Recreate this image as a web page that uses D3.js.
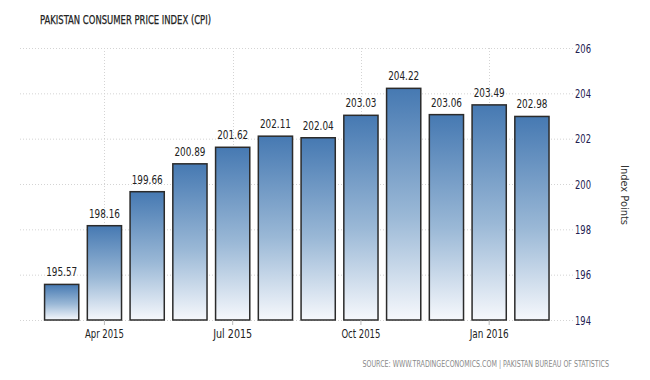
<!DOCTYPE html>
<html>
<head>
<meta charset="utf-8">
<script src="https://cdn.jsdelivr.net/npm/d3@7"></script>
<style>
  body { margin: 0; background: #fff; }
  svg text { font-family: "DejaVu Sans Condensed", "DejaVu Sans", sans-serif; }
</style>
</head>
<body>
<svg id="chart" width="650" height="380"></svg>
<script>
const months = ['2015-03', '2015-04', '2015-05', '2015-06', '2015-07', '2015-08',
    '2015-09', '2015-10', '2015-11', '2015-12', '2016-01', '2016-02'];
const cpi = [195.57, 198.16, 199.66, 200.89, 201.62, 202.11, 202.04, 203.03, 204.22, 203.06, 203.49, 202.98];
const xTicks = ['2015-04', '2015-07', '2015-10', '2016-01'];
const xTickLabels = ['Apr 2015', 'Jul 2015', 'Oct 2015', 'Jan 2016'];
const yTicks = [194, 196, 198, 200, 202, 204, 206];

const svg = d3.select('#chart');

const x = d3.scaleBand().domain(months).range([40.3, 553.3]).paddingInner(0.2).paddingOuter(0.1);
const y = d3.scaleLinear().domain([194, 206]).range([320, 48]);

// squeeze a text node to the width the reference uses
function fitWidth(sel, w) {
    sel.each(function () {
        if (this.getComputedTextLength() > w + 1) {
            d3.select(this).attr('textLength', w).attr('lengthAdjust', 'spacingAndGlyphs');
        }
    });
}

// gradient per bar
const grad = svg.append('defs').append('linearGradient')
    .attr('id', 'barGrad')
    .attr('x1', 0).attr('y1', 0).attr('x2', 0).attr('y2', 1);
grad.append('stop').attr('offset', '0%').attr('stop-color', '#4679b2');
grad.append('stop').attr('offset', '55%').attr('stop-color', '#9ab8d6');
grad.append('stop').attr('offset', '100%').attr('stop-color', '#f6f8fc');

// title
svg.append('text')
    .attr('x', 40).attr('y', 24)
    .attr('font-size', 12)
    .attr('fill', '#222')
    .attr('stroke', '#222').attr('stroke-width', 0.25)
    .text('PAKISTAN CONSUMER PRICE INDEX (CPI)')
    .call(fitWidth, 171);

// grid
const grid = svg.append('g');
grid.selectAll('line.h').data(yTicks).enter().append('line')
    .attr('class', 'h')
    .attr('x1', 20).attr('x2', 573)
    .attr('y1', (d) => y(d) + 0.5).attr('y2', (d) => y(d) + 0.5)
    .attr('stroke', '#d4d4d4').attr('stroke-dasharray', '1,2');
grid.selectAll('line.v').data(xTicks).enter().append('line')
    .attr('class', 'v')
    .attr('x1', (d) => Math.round(x(d) + x.bandwidth() / 2) + 0.5)
    .attr('x2', (d) => Math.round(x(d) + x.bandwidth() / 2) + 0.5)
    .attr('y1', 48).attr('y2', 320)
    .attr('stroke', '#d4d4d4').attr('stroke-dasharray', '1,2');

// bars
svg.selectAll('rect.bar').data(months).enter().append('rect')
    .attr('class', 'bar')
    .attr('x', (d) => x(d))
    .attr('y', (d, i) => y(cpi[i]))
    .attr('width', x.bandwidth())
    .attr('height', (d, i) => y(194) - y(cpi[i]))
    .attr('fill', 'url(#barGrad)')
    .attr('stroke', '#2b2b2b').attr('stroke-width', 1.5);

// value labels
svg.selectAll('text.val').data(months).enter().append('text')
    .attr('class', 'val')
    .attr('x', (d) => x(d) + x.bandwidth() / 2)
    .attr('y', (d, i) => y(cpi[i]) - 8)
    .attr('text-anchor', 'middle')
    .attr('font-size', 13).attr('fill', '#222')
    .text((d, i) => cpi[i].toFixed(2))
    .call(fitWidth, 31);

// x axis
const xAxis = d3.axisBottom(x)
    .tickValues(xTicks)
    .tickFormat((d, i) => xTickLabels[i])
    .tickSize(5).tickSizeOuter(0).tickPadding(4);
const xg = svg.append('g').attr('transform', 'translate(0,320)').call(xAxis);
xg.select('.domain').remove();
xg.selectAll('line').attr('stroke', '#bbb');
xg.selectAll('text').attr('font-size', 12).attr('fill', '#222').call(fitWidth, 39);

// y axis (right)
const yAxis = d3.axisRight(y).tickValues(yTicks).tickSize(0).tickPadding(0);
const yg = svg.append('g').attr('transform', 'translate(575,0)').call(yAxis);
yg.select('.domain').remove();
yg.selectAll('text').attr('font-size', 12.5).attr('fill', '#222050').call(fitWidth, 16);

// y label
svg.append('text')
    .attr('transform', 'translate(621,195) rotate(90)')
    .attr('text-anchor', 'middle')
    .attr('font-size', 11).attr('fill', '#333')
    .text('Index Points');

// source (narrowed with a horizontal scale)
const src = svg.append('text')
    .attr('text-anchor', 'end')
    .attr('font-size', 9).attr('fill', '#8a8a8a')
    .text('SOURCE: WWW.TRADINGECONOMICS.COM | PAKISTAN BUREAU OF STATISTICS');
const k = Math.min(1, 247 / src.node().getComputedTextLength());
src.attr('transform', `translate(609,367) scale(${k},1)`);
</script>
</body>
</html>
